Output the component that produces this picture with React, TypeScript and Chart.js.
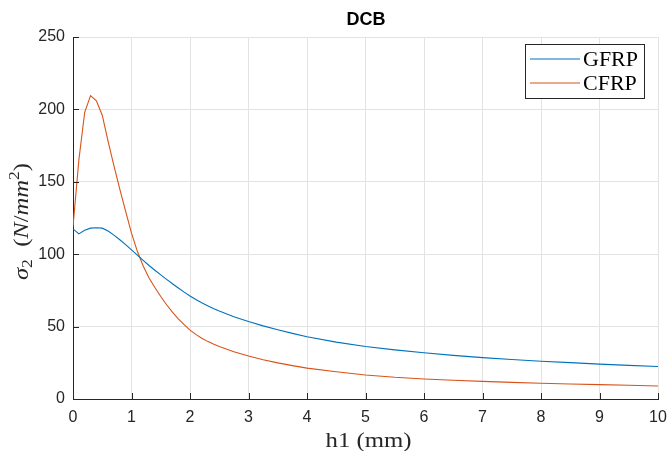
import React, { useEffect, useRef } from "react";
import { Chart, registerables } from "chart.js";

Chart.register(...registerables);

const chartTitle = "DCB";
const xTitle = "h1 (mm)";
const seriesNames = ["GFRP", "CFRP"];
const seriesColors = ["#0072BD", "#D95319"];

const hValues = [
  0, 0.1, 0.2, 0.3, 0.4, 0.5, 0.6, 0.7, 0.8, 0.9, 1.0, 1.1, 1.2, 1.3, 1.4, 1.5, 1.6, 1.7, 1.8, 1.9, 2.0,
  2.1, 2.2, 2.3, 2.4, 2.5, 2.75, 3, 3.25, 3.5, 3.75, 4, 4.5, 5, 5.5, 6, 6.5, 7, 7.5, 8, 8.5, 9, 9.5, 10,
];
const gfrpValues = [
  117.5, 114, 116.5, 118, 118.3, 118, 116, 113.2, 110, 106.6, 103, 99.3, 95.7, 92.2, 88.9, 85.7, 82.6, 79.6, 76.7, 73.8, 71.1,
  68.65, 66.4, 64.35, 62.45, 60.7, 56.8, 53.5, 50.5, 47.8, 45.3, 43.0, 39.3, 36.3, 33.9, 31.9, 30.1, 28.6, 27.3, 26.1, 25.1, 24.1, 23.2, 22.4,
];
const cfrpValues = [
  119, 165, 198, 209.5, 206, 196, 178, 161, 145, 129.5, 114.5, 102, 91.8, 83.6, 77.0, 70.8, 65.1, 60.0, 55.4, 51.3, 47.6,
  44.6, 42.0, 39.8, 37.9, 36.25, 32.65, 29.65, 27.15, 24.95, 23.05, 21.35, 18.8, 16.6, 15.0, 13.85, 12.95, 12.2, 11.5, 10.9, 10.4, 9.9, 9.45, 9.0,
];
const xTicks = [0, 1, 2, 3, 4, 5, 6, 7, 8, 9, 10];
const yTicks = [0, 50, 100, 150, 200, 250];

const SANS = '"Liberation Sans", Arial, sans-serif';
const SERIF = '"Liberation Serif", "Times New Roman", serif';
const AXIS = "#262626";

function drawScaled(ctx: any, text: string, x: number, y: number, font: string, sx: number, align: string) {
  ctx.save();
  ctx.font = font;
  const w = ctx.measureText(text).width * sx;
  let left = x;
  if (align === "center") left = x - w / 2;
  ctx.translate(left, y);
  ctx.scale(sx, 1);
  ctx.textAlign = "left";
  ctx.fillText(text, 0, 0);
  ctx.restore();
}

const decorPlugin = {
  id: "decor",
  afterDraw(chart: any) {
    const { ctx, chartArea, scales } = chart;
    const xs = scales.x;
    const ys = scales.y;
    ctx.save();
    // inward ticks
    ctx.strokeStyle = AXIS;
    ctx.lineWidth = 1;
    ctx.beginPath();
    xTicks.forEach((t) => {
      const px = Math.round(xs.getPixelForValue(t)) + 0.5;
      ctx.moveTo(px, chartArea.bottom);
      ctx.lineTo(px, chartArea.bottom - 6);
    });
    yTicks.forEach((t) => {
      const py = Math.round(ys.getPixelForValue(t)) + 0.5;
      ctx.moveTo(chartArea.left, py);
      ctx.lineTo(chartArea.left + 6, py);
    });
    ctx.stroke();

    const midX = (chartArea.left + chartArea.right) / 2;
    // title
    ctx.fillStyle = "#000";
    ctx.font = "bold 18px " + SANS;
    ctx.textAlign = "center";
    ctx.textBaseline = "middle";
    ctx.fillText(chartTitle, midX + 0.5, 20);

    // x title
    ctx.fillStyle = AXIS;
    ctx.textBaseline = "alphabetic";
    drawScaled(ctx, xTitle, midX + 3, 446.5, "21px " + SERIF, 1.18, "center");

    // y title (rotated, with sub/superscript)
    const pieces = [
      { t: "\u03C3", f: "italic 21px " + SERIF, dy: 0 },
      { t: "2", f: "15px " + SERIF, dy: 4 },
      { t: "  (", f: "21px " + SERIF, dy: 0 },
      { t: "N", f: "italic 21px " + SERIF, dy: 0 },
      { t: "/", f: "21px " + SERIF, dy: 0 },
      { t: "mm", f: "italic 21px " + SERIF, dy: 0 },
      { t: "2", f: "15px " + SERIF, dy: -9 },
      { t: ")", f: "21px " + SERIF, dy: 0 },
    ];
    let total = 0;
    pieces.forEach((p) => {
      ctx.font = p.f;
      total += ctx.measureText(p.t).width;
    });
    const target = 117;
    const sx = target / total;
    ctx.save();
    ctx.translate(28, 221.5);
    ctx.rotate(-Math.PI / 2);
    ctx.scale(sx, 1);
    ctx.textAlign = "left";
    let cx = -total / 2;
    pieces.forEach((p) => {
      ctx.font = p.f;
      ctx.fillText(p.t, cx, p.dy);
      cx += ctx.measureText(p.t).width;
    });
    ctx.restore();

    // legend
    ctx.fillStyle = "#fff";
    ctx.fillRect(525.5, 44.5, 119, 54);
    ctx.strokeStyle = AXIS;
    ctx.lineWidth = 1;
    ctx.strokeRect(525.5, 44.5, 119, 54);
    const rows = [59, 83];
    seriesNames.forEach((name, i) => {
      ctx.strokeStyle = seriesColors[i];
      ctx.lineWidth = 1.2;
      ctx.beginPath();
      ctx.moveTo(530, rows[i]);
      ctx.lineTo(580, rows[i]);
      ctx.stroke();
      ctx.fillStyle = "#000";
      ctx.textBaseline = "alphabetic";
      drawScaled(ctx, name, 583, rows[i] + 6.5, "20px " + SERIF, 1.1, "left");
    });
    ctx.restore();
  },
};

export default function App() {
  const ref = useRef<HTMLCanvasElement | null>(null);
  useEffect(() => {
    if (!ref.current) return;
    const mk = (vals: number[]) => hValues.map((h, i) => ({ x: h, y: vals[i] }));
    const chart = new Chart(ref.current, {
      type: "line",
      data: {
        datasets: [
          {
            label: seriesNames[0],
            data: mk(gfrpValues),
            borderColor: seriesColors[0],
            borderWidth: 1.1,
            pointRadius: 0,
            tension: 0,
            fill: false,
          },
          {
            label: seriesNames[1],
            data: mk(cfrpValues),
            borderColor: seriesColors[1],
            borderWidth: 1.1,
            pointRadius: 0,
            tension: 0,
            fill: false,
          },
        ],
      },
      options: {
        responsive: false,
        animation: false,
        devicePixelRatio: 1,
        layout: { padding: { top: 37, right: 0, left: 0, bottom: 0 } },
        plugins: { legend: { display: false }, title: { display: false }, tooltip: { enabled: false } },
        scales: {
          x: {
            type: "linear",
            min: 0,
            max: 10,
            afterBuildTicks: (s: any) => {
              s.ticks = xTicks.map((v) => ({ value: v }));
            },
            afterFit: (s: any) => {
              s.height = 52;
              s.paddingRight = 9;
              s.paddingLeft = 0;
            },
            ticks: { color: AXIS, font: { family: SANS, size: 16 }, padding: 9, maxRotation: 0, autoSkip: false },
            grid: { color: "#e3e3e3", drawTicks: false },
            border: { display: true, color: AXIS, width: 1 },
          },
          y: {
            type: "linear",
            min: 0,
            max: 250,
            afterBuildTicks: (s: any) => {
              s.ticks = yTicks.map((v) => ({ value: v }));
            },
            afterFit: (s: any) => {
              s.width = 73;
            },
            ticks: { color: AXIS, font: { family: SANS, size: 16 }, padding: 8, autoSkip: false },
            grid: { color: "#e3e3e3", drawTicks: false },
            border: { display: true, color: AXIS, width: 1 },
          },
        },
      },
      plugins: [decorPlugin],
    });
    return () => chart.destroy();
  }, []);
  return (
    <div style={{ position: "absolute", left: 0, top: 0, width: 667, height: 451, background: "#fff" }}>
      <canvas ref={ref} width={667} height={451} />
    </div>
  );
}
